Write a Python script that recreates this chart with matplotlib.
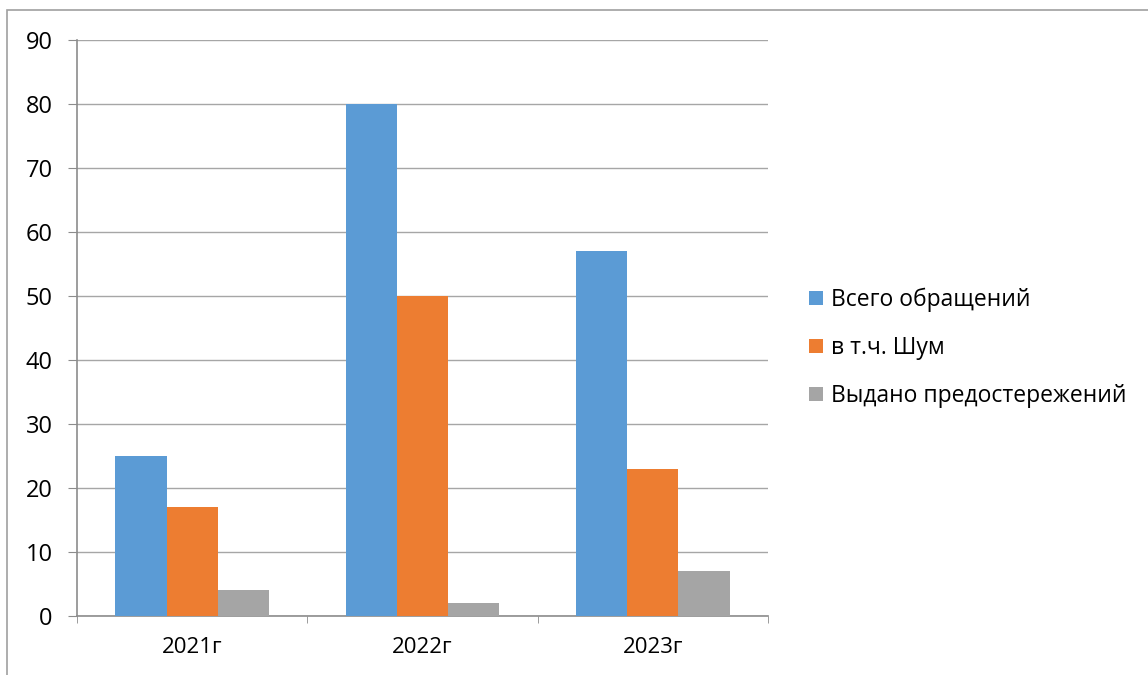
import matplotlib
matplotlib.use("Agg")
import matplotlib.pyplot as plt
import numpy as np
from matplotlib.patches import Rectangle

# data
years = ["2021г", "2022г", "2023г"]
series_names = ["Всего обращений", "в т.ч. Шум", "Выдано предостережений"]
total = [25, 80, 57]
noise = [17, 50, 23]
warnings = [4, 2, 7]
colors = ["#5B9BD5", "#ED7D31", "#A5A5A5"]

plt.rcParams["font.family"] = ["Open Sans", "DejaVu Sans"]


def main():
    fig = plt.figure(figsize=(11.48, 6.75), dpi=100)
    ax = fig.add_axes([77 / 1148, 59 / 675, 691 / 1148, 576 / 675])

    x = np.arange(len(years))
    w = 0.222
    for i, (vals, name) in enumerate(zip([total, noise, warnings], series_names)):
        ax.bar(x + (i - 1) * w, vals, width=w, color=colors[i], label=name, zorder=3)

    ax.set_xlim(-0.5, len(years) - 0.5)
    ax.set_ylim(0, 90)
    ax.set_yticks(np.arange(0, 91, 10))
    ax.grid(axis="y", color="#A6A6A6", linewidth=1, zorder=0)

    ax.set_xticks(x)
    ax.set_xticklabels(years)
    ax.set_xticks(np.arange(-0.5, len(years), 1), minor=True)
    ax.tick_params(axis="x", which="major", length=0, pad=15, labelsize=16)
    ax.tick_params(axis="x", which="minor", length=5, color="#8C8C8C", direction="out")
    ax.tick_params(axis="y", length=6.5, color="#8C8C8C", pad=11, labelsize=17)

    for side in ["top", "right"]:
        ax.spines[side].set_visible(False)
    for side in ["left", "bottom"]:
        ax.spines[side].set_color("#8C8C8C")
        ax.spines[side].set_linewidth(1.2)

    fig.legend(
        loc="center left",
        bbox_to_anchor=(798 / 1148, 1 - 348 / 675),
        frameon=False,
        fontsize=16.5,
        handlelength=0.6,
        handleheight=0.6,
        handletextpad=0.35,
        labelspacing=1.05,
        borderpad=0,
    )

    # outer chart border (top and left visible)
    fig.patches.append(
        Rectangle((7 / 1148, -0.1), 1.2, 1.1 - 10 / 675, transform=fig.transFigure,
                  fill=False, edgecolor="#A0A0A0", linewidth=1.2)
    )

    fig.savefig("out.png", dpi=100)


if __name__ == "__main__":
    main()
